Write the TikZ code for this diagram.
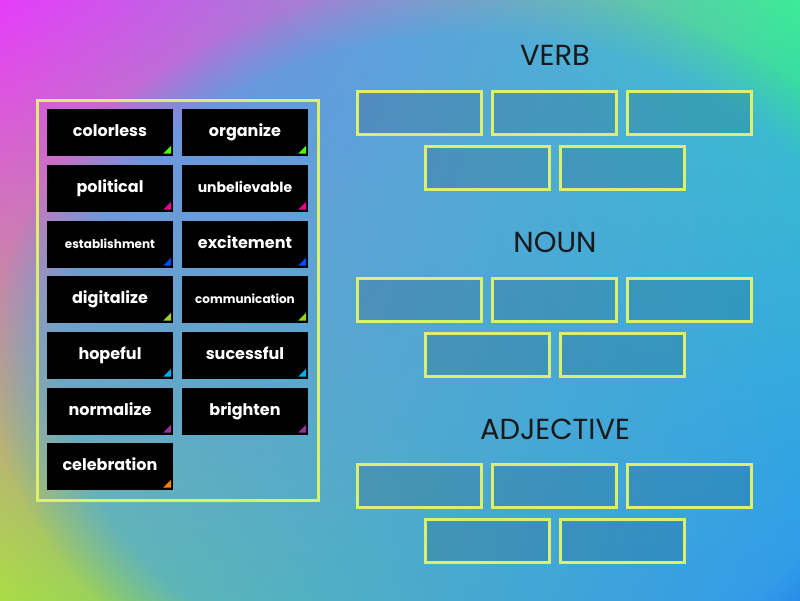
\documentclass[tikz,border=0pt]{standalone}
\usetikzlibrary{shadings,fadings}
\usepackage{fontspec}
\setmainfont{Poppins}
\begin{document}
\begin{tikzpicture}[x=1pt,y=-1pt,
 tile/.style={fill=black,minimum width=126pt,minimum height=47pt,inner sep=0pt,text=white,text height=10pt,text depth=2pt},
 slot/.style={draw=ylw,line width=3pt,fill=black,fill opacity=0.12,minimum width=124pt,minimum height=43pt,inner sep=0pt},
 ttl/.style={font=\fontsize{29}{34}\selectfont,text=black!90}]
\definecolor{ylw}{RGB}{220,240,110}
\definecolor{c1}{RGB}{230,60,250}\definecolor{c2}{RGB}{60,235,150}
\definecolor{c3}{RGB}{170,220,70}\definecolor{c4}{RGB}{30,130,235}
\definecolor{mid}{RGB}{60,170,235}
\useasboundingbox (0,0) rectangle (800,600);
\shade[upper left=c1,upper right=c2,lower left=c3,lower right=c4] (0,0) rectangle (800,600);
\fill[mid,opacity=0.6,path fading=circle with fuzzy edge 15 percent] (470,360) ellipse [x radius=480,y radius=380];
\draw[ylw,line width=3pt] (37,100) rectangle (318,500);
\foreach \n/\t/\x/\y/\c/\f in {
 a/colorless/110/132/green!70!yellow/16, b/organize/245/132/green!70!yellow/16,
 c/political/110/188/magenta/16, d/unbelievable/245/188/magenta/14,
 e/establishment/110/244/blue!70!cyan/12, f/excitement/245/244/blue!70!cyan/16,
 g/digitalize/110/299/yellow!60!green/16, h/communication/245/299/yellow!60!green/12,
 i/hopeful/110/355/cyan/16, j/sucessful/245/355/cyan/16,
 k/normalize/110/411/violet!80!white/16, l/brighten/245/411/violet!80!white/16,
 m/celebration/110/466/orange/16}{
 \node[tile,font=\fontsize{\f}{20}\selectfont\bfseries] (\n) at (\x,\y) {\t};
 \fill[\c] ([xshift=-2pt,yshift=2pt]\n.south east) -- ++(-8,0) -- ++(8,-8) -- cycle;
}
\node[ttl] (tv) at (555,55) {VERB};
\node[ttl] (tn) at (555,242) {NOUN};
\node[ttl] (ta) at (555,429) {ADJECTIVE};
\foreach \g/\d in {v/0,n/187,a/373}{
 \node[slot] (\g1) at (419.5,113+\d) {};
 \node[slot] (\g2) at (554.5,113+\d) {};
 \node[slot] (\g3) at (689.5,113+\d) {};
 \node[slot] (\g4) at (487.5,168+\d) {};
 \node[slot] (\g5) at (622.5,168+\d) {};
}
\end{tikzpicture}
\end{document}
